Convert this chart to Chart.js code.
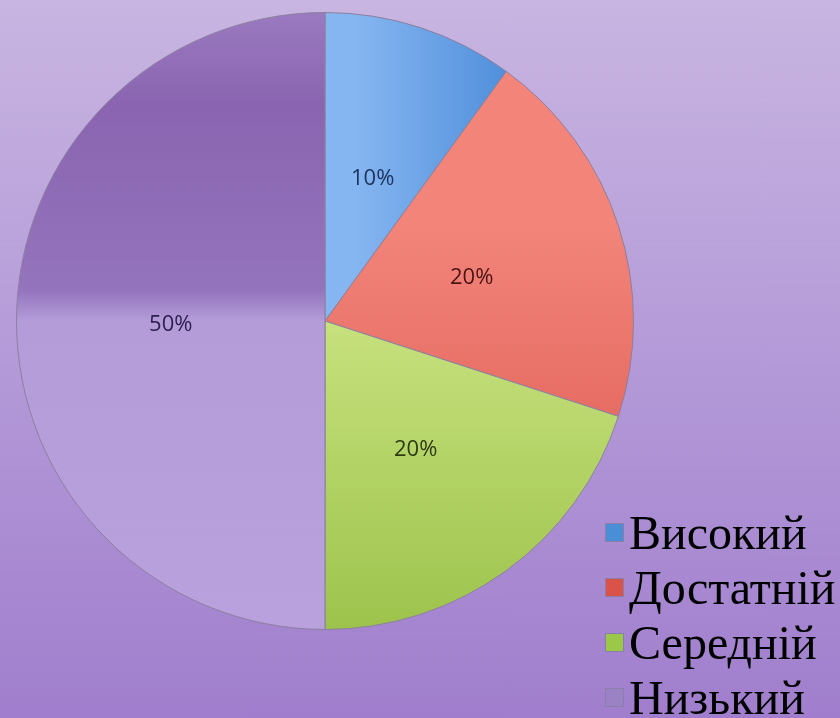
<!DOCTYPE html>
<html>
<head>
<meta charset="utf-8">
<script src="https://cdn.jsdelivr.net/npm/chart.js@4/dist/chart.umd.min.js"></script>
<style>
  html, body { margin: 0; padding: 0; }
  body {
    width: 840px; height: 718px; overflow: hidden;
    background: linear-gradient(to bottom, #c8b5e1 0%, #b49ad8 50%, #a07ecd 100%);
  }
  #wrap { position: relative; width: 840px; height: 718px; }
</style>
</head>
<body>
<div id="wrap"><canvas id="pieChart"></canvas></div>
<script>
// Дані діаграми
const categories = ['Високий', 'Достатній', 'Середній', 'Низький'];
const values = [10, 20, 20, 50];
const valueLabels = ['10%', '20%', '20%', '50%'];

// Кольори секторів (світлий / темний край градієнта)
const lightColors = ['#86b6f1', '#f2847a', '#d3ea8c', '#8a64b0'];
const darkColors = ['#4b8bd9', '#d9524a', '#9dc34c', '#b8a1dd'];
const legendColors = ['#4a8fd6', '#d9534a', '#9cc84a', '#9b82c4'];
const labelColors = ['#1f3560', '#4a1414', '#2d3a12', '#2e2050'];

function sliceGradient(ctx) {
    const chart = ctx.chart;
    const area = chart.chartArea;
    if (!area) return lightColors[ctx.dataIndex];
    const i = ctx.dataIndex;
    const c = chart.ctx;
    let g;
    if (i === 0) {
        g = c.createLinearGradient(area.left + area.width * 0.55, 0, area.left + area.width * 0.82, 0);
    } else if (i === 3) {
        g = c.createLinearGradient(0, area.top, 0, area.bottom);
        g.addColorStop(0, '#9a7ac0');
        g.addColorStop(0.15, '#8a64b0');
        g.addColorStop(0.45, '#9474bd');
        g.addColorStop(0.5, '#b49cd9');
        g.addColorStop(1, '#b8a1dd');
        return g;
    } else {
        g = c.createLinearGradient(0, area.top + area.height * 0.35, 0, area.bottom);
    }
    g.addColorStop(0, lightColors[i]);
    g.addColorStop(1, darkColors[i]);
    return g;
}

// Підписи значень усередині секторів
const sliceLabels = {
    id: 'sliceLabels',
    afterDatasetsDraw(chart) {
        const ctx = chart.ctx;
        const meta = chart.getDatasetMeta(0);
        ctx.save();
        ctx.font = '22px "Open Sans", "Liberation Sans", sans-serif';
        ctx.textAlign = 'center';
        ctx.textBaseline = 'middle';
        meta.data.forEach((arc, i) => {
            const mid = (arc.startAngle + arc.endAngle) / 2;
            const r = arc.outerRadius * 0.5;
            ctx.fillStyle = labelColors[i];
            ctx.fillText(valueLabels[i], arc.x + Math.cos(mid) * r, arc.y + Math.sin(mid) * r + 4);
        });
        ctx.restore();
    }
};

// Легенда праворуч унизу
const sideLegend = {
    id: 'sideLegend',
    afterDraw(chart) {
        const ctx = chart.ctx;
        ctx.save();
        ctx.font = '48px "Liberation Serif", "DejaVu Serif", serif';
        ctx.textBaseline = 'alphabetic';
        chart.data.labels.forEach((lab, i) => {
            const y = 533 + i * 55;
            ctx.fillStyle = legendColors[i];
            ctx.strokeStyle = '#8a7fa6';
            ctx.lineWidth = 1;
            ctx.fillRect(605, y - 10, 19, 19);
            ctx.strokeRect(605.5, y - 9.5, 18, 18);
            ctx.fillStyle = '#000000';
            ctx.fillText(lab, 629, y + 16);
        });
        ctx.restore();
    }
};

document.addEventListener('DOMContentLoaded', function() {
    new Chart(document.getElementById('pieChart'), {
        type: 'pie',
        data: {
            labels: categories,
            datasets: [{
                data: values,
                backgroundColor: sliceGradient,
                borderColor: '#8c7f9e',
                borderWidth: 1
            }]
        },
        options: {
            responsive: true,
            maintainAspectRatio: false,
            animation: false,
            layout: { padding: { left: 16, top: 12, right: 206, bottom: 88 } },
            plugins: {
                legend: { display: false },
                tooltip: { enabled: false }
            }
        },
        plugins: [sliceLabels, sideLegend]
    });
});
</script>
</body>
</html>
